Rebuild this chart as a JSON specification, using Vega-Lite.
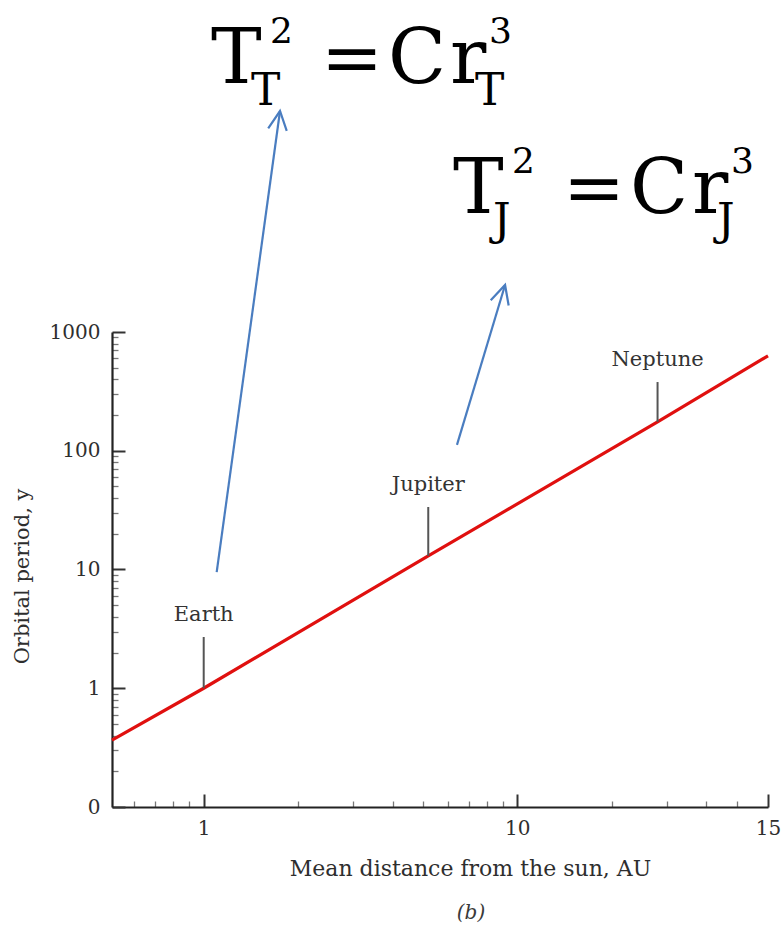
{
  "$schema": "https://vega.github.io/schema/vega-lite/v6.json",
  "width": 656,
  "height": 475,
  "autosize": {"type": "none"},
  "padding": {"left": 112, "top": 332, "right": 15, "bottom": 119},
  "background": "white",
  "title": {
    "text": "(b)",
    "orient": "bottom",
    "anchor": "middle",
    "frame": "group",
    "font": "DejaVu Serif",
    "fontSize": 20,
    "fontStyle": "italic",
    "fontWeight": "normal",
    "color": "#3a3a3a",
    "dx": 31,
    "offset": 24
  },
  "config": {"view": {"stroke": null}, "font": "DejaVu Serif"},
  "datasets": {
    "orbit": [
      {"distance": 0.51, "period": 0.366},
      {"distance": 1, "period": 1},
      {"distance": 5.2, "period": 13},
      {"distance": 28, "period": 175},
      {"distance": 63, "period": 630}
    ],
    "planets": [
      {"planet": "Earth", "distance": 1, "period": 1, "leader": 2.7},
      {"planet": "Jupiter", "distance": 5.2, "period": 13, "leader": 33.6},
      {"planet": "Neptune", "distance": 28, "period": 175, "leader": 379}
    ],
    "arrows": [
      {"target": "Earth", "distance": 1.1, "period": 9.5, "tipDistance": 1.751, "tipPeriod": 72600},
      {"target": "Jupiter", "distance": 6.42, "period": 112, "tipDistance": 9.14, "tipPeriod": 2490}
    ],
    "formulas": [
      {"body": "Earth", "sub": "T", "distance": 1.032, "period": 125000},
      {"body": "Jupiter", "sub": "J", "distance": 6.1, "period": 10000}
    ]
  },
  "layer": [
    {
      "data": {"name": "orbit"},
      "mark": {"type": "line", "color": "#e0100f", "strokeWidth": 3.2},
      "encoding": {
        "x": {
          "field": "distance", "type": "quantitative",
          "scale": {"type": "log", "domain": [0.51, 63], "nice": false},
          "axis": {
            "orient": "bottom", "values": [0.6, 0.7, 0.8, 0.9, 2, 3, 4, 5, 6, 7, 8, 9, 20, 30, 40, 50],
            "labels": false, "domain": false, "grid": false, "title": null,
            "tickSize": -6, "tickColor": "#777777", "tickWidth": 1.3
          }
        },
        "y": {
          "field": "period", "type": "quantitative",
          "scale": {"type": "log", "domain": [0.1, 1000], "nice": false},
          "axis": {
            "orient": "left",
            "values": [0.2, 0.3, 0.4, 0.5, 0.6, 0.7, 0.8, 0.9, 2, 3, 4, 5, 6, 7, 8, 9, 20, 30, 40, 50, 60, 70, 80, 90, 200, 300, 400, 500, 600, 700, 800, 900],
            "labels": false, "domain": false, "grid": false, "title": null,
            "tickSize": -6, "tickColor": "#777777", "tickWidth": 1.3
          }
        }
      }
    },
    {
      "data": {"name": "planets"},
      "mark": {"type": "rule", "color": "#555555", "strokeWidth": 2},
      "encoding": {
        "x": {
          "field": "distance", "type": "quantitative",
          "scale": {"type": "log", "domain": [0.51, 63], "nice": false},
          "axis": {
            "orient": "bottom", "values": [1, 10, 63],
            "labelExpr": "datum.value > 50 ? '15' : format(datum.value, 'd')",
            "labelFlush": false, "labelOverlap": false,
            "grid": false,
            "domainColor": "#222222", "domainWidth": 2.2,
            "tickSize": -13, "tickColor": "#333333", "tickWidth": 2,
            "labelPadding": 24, "labelFont": "DejaVu Serif", "labelFontSize": 20, "labelColor": "#2e2e2e",
            "title": "Mean distance from the sun, AU",
            "titleFont": "DejaVu Serif", "titleFontSize": 22, "titleFontWeight": "normal", "titleColor": "#2e2e2e",
            "titleX": 358, "titleY": 61, "titleAlign": "center", "titleBaseline": "middle"
          }
        },
        "y": {
          "field": "period", "type": "quantitative",
          "scale": {"type": "log", "domain": [0.1, 1000], "nice": false},
          "axis": {
            "orient": "left", "values": [0.1, 1, 10, 100, 1000],
            "labelExpr": "datum.value < 0.5 ? '0' : format(datum.value, 'd')",
            "labelFlush": false, "labelOverlap": false,
            "grid": false,
            "domainColor": "#222222", "domainWidth": 2.2,
            "tickSize": -13, "tickColor": "#333333", "tickWidth": 2,
            "labelPadding": 25, "labelFont": "DejaVu Serif", "labelFontSize": 20, "labelColor": "#2e2e2e",
            "title": "Orbital period, y",
            "titleFont": "DejaVu Serif", "titleFontSize": 21, "titleFontWeight": "normal", "titleColor": "#2e2e2e",
            "titleAngle": -90, "titleX": -90, "titleY": 244, "titleAlign": "center", "titleBaseline": "middle"
          }
        },
        "y2": {"field": "leader"}
      }
    },
    {
      "data": {"name": "planets"},
      "mark": {"type": "text", "align": "center", "baseline": "alphabetic", "dy": -16, "fontSize": 21, "color": "#333333"},
      "encoding": {
        "x": {"field": "distance", "type": "quantitative", "axis": null},
        "y": {"field": "leader", "type": "quantitative", "axis": null},
        "text": {"field": "planet"}
      }
    },
    {
      "data": {"name": "arrows"},
      "mark": {"type": "rule", "color": "#4a7dc0", "strokeWidth": 2.2},
      "encoding": {
        "x": {"field": "distance", "type": "quantitative", "axis": null},
        "y": {"field": "period", "type": "quantitative", "axis": null},
        "x2": {"field": "tipDistance"},
        "y2": {"field": "tipPeriod"}
      }
    },
    {
      "data": {"name": "arrows"},
      "transform": [{"filter": "datum.target == 'Earth'"}],
      "mark": {"type": "point", "shape": "M-0.5,1L0,0L0.5,1", "size": 1400, "filled": false, "stroke": "#4a7dc0", "strokeWidth": 2.2, "opacity": 1, "angle": 7.8},
      "encoding": {
        "x": {"field": "tipDistance", "type": "quantitative", "axis": null},
        "y": {"field": "tipPeriod", "type": "quantitative", "axis": null}
      }
    },
    {
      "data": {"name": "arrows"},
      "transform": [{"filter": "datum.target == 'Jupiter'"}],
      "mark": {"type": "point", "shape": "M-0.5,1L0,0L0.5,1", "size": 1400, "filled": false, "stroke": "#4a7dc0", "strokeWidth": 2.2, "opacity": 1, "angle": 16.7},
      "encoding": {
        "x": {"field": "tipDistance", "type": "quantitative", "axis": null},
        "y": {"field": "tipPeriod", "type": "quantitative", "axis": null}
      }
    },
    {
      "data": {"name": "formulas"},
      "mark": {"type": "text", "text": "T", "align": "left", "baseline": "alphabetic", "dx": 3, "fontSize": 76, "color": "black"},
      "encoding": {
        "x": {"field": "distance", "type": "quantitative", "axis": null},
        "y": {"field": "period", "type": "quantitative", "axis": null}
      }
    },
    {
      "data": {"name": "formulas"},
      "mark": {"type": "text", "text": "2", "align": "left", "baseline": "alphabetic", "dx": 62, "dy": -40, "fontSize": 36, "color": "black"},
      "encoding": {
        "x": {"field": "distance", "type": "quantitative", "axis": null},
        "y": {"field": "period", "type": "quantitative", "axis": null}
      }
    },
    {
      "data": {"name": "formulas"},
      "mark": {"type": "text", "align": "left", "baseline": "alphabetic", "dx": 43, "dy": 22, "fontSize": 44, "color": "black"},
      "encoding": {
        "x": {"field": "distance", "type": "quantitative", "axis": null},
        "y": {"field": "period", "type": "quantitative", "axis": null},
        "text": {"field": "sub"}
      }
    },
    {
      "data": {"name": "formulas"},
      "mark": {"type": "text", "text": "=", "align": "left", "baseline": "alphabetic", "dx": 113, "fontSize": 74, "color": "black"},
      "encoding": {
        "x": {"field": "distance", "type": "quantitative", "axis": null},
        "y": {"field": "period", "type": "quantitative", "axis": null}
      }
    },
    {
      "data": {"name": "formulas"},
      "mark": {"type": "text", "text": "C", "align": "left", "baseline": "alphabetic", "dx": 180, "fontSize": 76, "color": "black"},
      "encoding": {
        "x": {"field": "distance", "type": "quantitative", "axis": null},
        "y": {"field": "period", "type": "quantitative", "axis": null}
      }
    },
    {
      "data": {"name": "formulas"},
      "mark": {"type": "text", "text": "r", "align": "left", "baseline": "alphabetic", "dx": 242, "fontSize": 76, "color": "black"},
      "encoding": {
        "x": {"field": "distance", "type": "quantitative", "axis": null},
        "y": {"field": "period", "type": "quantitative", "axis": null}
      }
    },
    {
      "data": {"name": "formulas"},
      "mark": {"type": "text", "text": "3", "align": "left", "baseline": "alphabetic", "dx": 281, "dy": -40, "fontSize": 36, "color": "black"},
      "encoding": {
        "x": {"field": "distance", "type": "quantitative", "axis": null},
        "y": {"field": "period", "type": "quantitative", "axis": null}
      }
    },
    {
      "data": {"name": "formulas"},
      "mark": {"type": "text", "align": "left", "baseline": "alphabetic", "dx": 267, "dy": 22, "fontSize": 44, "color": "black"},
      "encoding": {
        "x": {"field": "distance", "type": "quantitative", "axis": null},
        "y": {"field": "period", "type": "quantitative", "axis": null},
        "text": {"field": "sub"}
      }
    }
  ],
  "resolve": {"axis": {"x": "independent", "y": "independent"}}
}
